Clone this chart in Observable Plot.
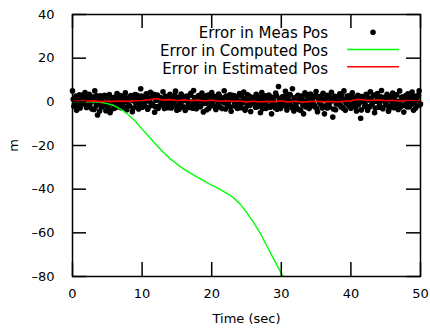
<!DOCTYPE html>
<html><head><meta charset="utf-8">
<script src="https://cdn.jsdelivr.net/npm/d3@7"></script>
<script src="https://cdn.jsdelivr.net/npm/@observablehq/plot@0.6"></script>
<style>body{margin:0;background:#fff}</style>
</head><body><div id="chart"></div>
<script>
const xTicks = [0, 10, 20, 30, 40, 50];
const yTicks = [-80, -60, -40, -20, 0, 20, 40];
const measStep = 0.2; // seconds between measurements of each set
// set A: t = 0.0, 0.2, ..., 50.0
const measValuesA = [
  5.0, -2.1, 1.8, -3.9, 0.6, 3.2, -1.4, 2.5, -0.8, 4.2,
  -2.6, 1.1, 3.5, -0.4, -3.3, 2.2, 5.0, -1.9, -6.0, 0.9,
  2.8, -2.4, -0.6, 3.0, -4.1, 1.5, -1.2, -5.0, 2.0, 0.3,
  -3.0, 1.7, 3.8, -1.5, 0.8, -2.7, 2.4, -0.2, 4.1, -3.6,
  1.2, -1.8, 2.9, -4.5, 0.5, 3.3, -2.2, 1.6, -0.9, 6.0,
  -2.5, 2.1, -0.3, 3.7, -3.4, 1.0, 4.4, -1.6, 2.6, -4.8,
  0.7, 3.1, -2.0, 1.9, -0.7, 4.6, -3.1, 2.3, -1.3, 0.4,
  3.4, -2.8, 1.4, -0.5, 4.9, -3.8, 2.0, -1.0, 3.6, -2.3,
  1.3, -4.0, 2.7, 0.2, -2.6, 3.9, -1.7, 5.2, -0.4, -3.2,
  2.2, 0.9, -2.1, 4.0, -4.6, 1.8, -0.6, 3.0, -2.9, 1.1,
  4.3, -1.5, 2.5, -3.5, 0.6, 3.6, -2.4, 1.2, -0.1, 5.1,
  -3.3, 2.1, -1.1, 3.2, -4.3, 0.8, 2.9, -2.0, 1.5, -0.8,
  3.8, -2.7, 0.4, 4.5, -3.9, 1.7, -1.4, 2.6, -4.4, 0.9,
  2.0, -0.5, 3.5, -2.2, 1.3, -5.0, 4.2, -1.0, 2.8, -3.0,
  0.5, 3.1, -2.5, -5.5, 1.9, -1.2, 4.0, -3.4, 7.0, 0.2,
  -2.0, 2.4, -0.9, 4.8, -3.7, 1.0, 3.3, -1.8, 6.0, -4.2,
  1.6, -2.6, 3.0, 0.1, -4.0, 2.2, -5.5, 4.1, -1.3, 1.4,
  -3.1, 3.6, -0.6, 2.0, -2.2, 4.7, -4.5, 0.8, 2.5, -1.6,
  3.9, -5.5, 1.2, -2.8, 2.9, -0.3, 4.4, -7.0, 0.6, -3.6,
  2.3, -1.0, 3.7, -2.4, 0.9, 5.0, -3.9, 1.6, -0.7, 2.8,
  -2.9, 4.1, -1.5, 1.9, -4.2, 3.0, -0.4, -7.5, 2.4, 0.7,
  -2.1, 3.4, -3.8, 1.3, 4.6, -1.2, 2.7, -5.0, 0.3, 3.8,
  -2.5, 1.0, 5.2, -3.2, 2.1, -0.8, 3.5, -4.3, 1.7, -1.9,
  4.0, -2.7, 0.5, 3.1, -3.5, 5.0, -1.4, 2.2, -4.7, 1.2,
  -0.6, 3.7, -2.3, 1.8, 4.5, -3.9, 0.9, 2.6, -1.7, 5.0,
  -1.0
];
// set B: t = 0.1, 0.3, ..., 49.9
const measValuesB = [
  1.2, -0.8, 2.6, -1.9, 0.4, -2.8, 1.7, 3.1, -0.5, 2.0,
  -1.3, 0.7, -2.4, 2.3, 1.0, -3.5, 0.2, 2.8, -1.1, -4.2,
  1.4, 0.3, -1.7, 2.5, -0.9, -2.0, 3.3, -3.8, 0.8, -1.4,
  2.2, -0.4, -2.3, 1.1, 2.9, -1.2, 0.5, -2.6, 1.8, 0.0,
  -1.6, 2.4, 0.9, -2.9, 1.5, -0.6, 3.0, -3.3, 0.6, 2.7,
  -0.2, -1.9, 1.6, 2.8, -2.5, 0.1, 1.9, -1.0, 3.4, -2.2,
  1.0, -3.0, 2.1, -0.8, 0.6, -1.8, 2.6, 0.3, -2.7, 1.3,
  -1.2, 2.2, -0.3, 3.1, -2.0, 0.9, -3.4, 1.7, 0.2, 2.4,
  -2.4, 0.5, 1.8, -1.5, 3.0, -0.1, -2.9, 2.0, 1.1, -1.0,
  2.9, -2.2, 0.4, 1.6, -0.7, 2.5, -3.6, 0.8, 3.2, -1.5,
  0.0, 2.0, -2.6, 1.2, -1.4, 2.8, 0.7, -3.1, 1.9, -0.5,
  2.6, -1.8, 0.6, -2.4, 3.0, 1.4, -0.9, 2.3, -3.0, 0.2,
  -1.1, 2.7, -0.4, 1.0, -2.8, 3.3, 0.1, -1.6, 2.1, -0.6,
  1.5, -2.5, 2.9, 0.3, -1.3, 2.0, -3.2, 0.9, -0.2, 2.6,
  -1.9, 1.1, 2.3, -0.8, 0.4, -2.7, 2.8, -1.4, 1.6, -3.1,
  0.8, -0.3, 2.5, -2.0, 1.3, -1.1, 3.1, -2.6, 0.5, 1.9,
  -0.9, 2.4, -3.5, 1.0, 2.7, -1.7, 0.3, -2.3, 3.2, 0.6,
  -2.1, 1.4, 0.0, -1.2, 2.9, -3.0, 1.7, -0.5, 2.2, -2.8,
  1.2, -1.9, 3.0, -0.4, -2.4, 1.8, 0.7, -3.3, 2.5, -1.0,
  0.2, 2.1, -1.6, 3.3, -2.9, 0.9, -0.6, 2.6, -1.8, 1.4,
  2.8, -0.7, 0.5, -2.5, 1.9, -1.3, 2.4, -3.7, 1.1, -0.2,
  -1.5, 2.9, 0.8, -2.2, 1.6, -0.4, 3.1, -2.9, 0.4, 1.8,
  -0.8, 2.3, -2.6, 0.6, 2.0, -1.5, 0.9, -3.2, 2.7, -0.3,
  1.6, -2.0, 3.2, -0.9, 0.3, -2.4, 2.1, 1.0, -1.7, 2.9,
  -2.3, 0.7, 1.9, -1.1, 2.6, -0.5, -2.8, 1.5, 3.0, -1.4
];
const computedTime = [0, 1, 2, 3, 4, 5, 6, 7, 8, 9, 10, 11, 12, 13, 14, 15, 16, 17, 18, 19, 20, 21, 22, 23, 24, 25, 26, 27, 28, 29, 30, 30.3];
const computedValues = [0, 0, 0, 0, -0.2, -0.8, -1.8, -3.5, -5.8, -8.8, -12.5, -16, -19.5, -23, -26, -28.5, -30.8, -32.8, -34.6, -36.4, -38.2, -39.8, -41.6, -43.6, -46.5, -50.5, -55.2, -60.3, -66.5, -72.5, -78.6, -80];
const estimatedTime = [0, 1, 2, 3, 4, 5, 6, 7, 8, 9, 10, 11, 12, 13, 14, 15, 16, 17, 18, 19, 20, 21, 22, 23, 24, 25, 26, 27, 28, 29, 30, 31, 32, 33, 34, 35, 36, 37, 38, 39, 40, 41, 42, 43, 44, 45, 46, 47, 48, 49, 50];
const estimatedValues = [0.3, 0.4, 0.2, 0.5, 0.1, 0.3, 0.2, 0.4, 0.2, 0.5, 0.6, 0.9, 1.5, 0.8, 1.0, 0.6, 0.9, 0.5, 0.8, 0.4, 0.7, 0.3, 0.5, 0.2, 0.4, 0.0, 0.3, -0.1, 0.2, 0.1, 0.4, 0.0, 0.3, -0.2, 0.1, 0.3, 0.0, 0.2, -0.1, 0.3, 0.5, 1.2, 0.8, 0.6, 0.9, 0.5, 0.7, 0.3, 0.6, 0.4, 0.5];
const legendLabels = ["Error in Meas Pos", "Error in Computed Pos", "Error in Estimated Pos"];
const xLabel = "Time (sec)";
const yLabel = "m";

const meas = [
  ...measValuesA.map((v, i) => ({t: +(i * measStep).toFixed(1), v})),
  ...measValuesB.map((v, i) => ({t: +(i * measStep + measStep / 2).toFixed(1), v}))
];
const comp = computedTime.map((t, i) => ({t, v: computedValues[i]}));
const est = estimatedTime.map((t, i) => ({t, v: estimatedValues[i]}));

const W = 430, H = 329, mL = 72, mR = 10, mT = 14, mB = 53;
const plotW = W - mL - mR, plotH = H - mT - mB, tk = 14;
const font = "DejaVu Sans";
const minus = d => String(d).replace("-", "\u2013");

const chart = Plot.plot({
  width: W, height: H, marginLeft: mL, marginRight: mR, marginTop: mT, marginBottom: mB,
  style: {fontFamily: font, fontSize: "13px", color: "#000", background: "#fff"},
  x: {domain: [0, 50]},
  y: {domain: [-80, 40]},
  marks: [
    Plot.dot(meas, {x: "t", y: "v", r: 2.8, fill: "#000", stroke: "none"}),
    Plot.line(comp, {x: "t", y: "v", stroke: "#00ff00", strokeWidth: 1.4, clip: true}),
    Plot.line(est, {x: "t", y: "v", stroke: "#ff0000", strokeWidth: 1.6}),
    Plot.ruleX(xTicks, {x: d => d, insetTop: plotH - tk, stroke: "#000", strokeWidth: 1.5}),
    Plot.ruleX(xTicks, {x: d => d, insetBottom: plotH - tk, stroke: "#000", strokeWidth: 1.5}),
    Plot.ruleY(yTicks, {y: d => d, insetRight: plotW - tk, stroke: "#000", strokeWidth: 1.5}),
    Plot.ruleY(yTicks, {y: d => d, insetLeft: plotW - tk, stroke: "#000", strokeWidth: 1.5}),
    Plot.frame({stroke: "#000", strokeWidth: 1.5}),
    Plot.axisX({ticks: xTicks, tickSize: 0, tickPadding: 12, tickFormat: minus, label: xLabel, labelAnchor: "center", labelOffset: 46, labelArrow: false}),
    Plot.axisY({ticks: yTicks, tickSize: 0, tickPadding: 18, tickFormat: minus, label: yLabel, labelAnchor: "center", labelOffset: 64, labelArrow: false})
  ]
});

const svg = d3.select(chart);
const leg = svg.append("g").attr("font-family", font).attr("font-size", "15px");
const rowsY = [38, 56, 73.5];
legendLabels.forEach((lab, i) => {
  leg.append("text").attr("x", 328).attr("y", rowsY[i]).attr("text-anchor", "end").attr("fill", "#000").text(lab);
});
leg.append("circle").attr("cx", 373).attr("cy", 32.3).attr("r", 2.8).attr("fill", "#000");
leg.append("line").attr("x1", 347).attr("x2", 399).attr("y1", 49.5).attr("y2", 49.5).attr("stroke", "#00ff00").attr("stroke-width", 1.5);
leg.append("line").attr("x1", 347).attr("x2", 399).attr("y1", 66.7).attr("y2", 66.7).attr("stroke", "#ff0000").attr("stroke-width", 1.6);

document.getElementById("chart").appendChild(chart);
</script>
</body></html>
